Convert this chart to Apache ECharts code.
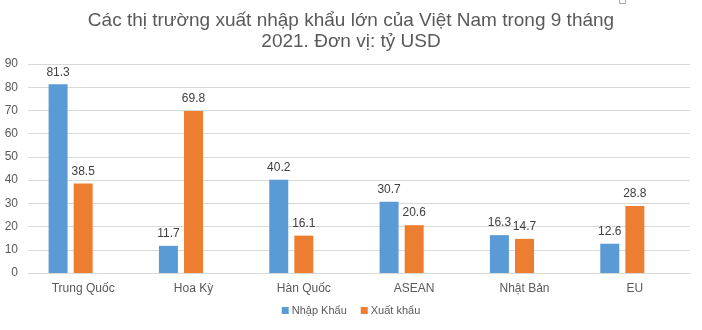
<!DOCTYPE html>
<html>
<head>
<meta charset="utf-8">
<script src="https://cdn.jsdelivr.net/npm/echarts@6/dist/echarts.min.js"></script>
<style>
  html, body { margin: 0; padding: 0; background: #fff; }
  #chart { width: 702px; height: 330px; }
</style>
</head>
<body>
<div id="chart"></div>
<script>
// Markets and trade values (billion USD), first 9 months of 2021
const categories = ['Trung Quốc', 'Hoa Kỳ', 'Hàn Quốc', 'ASEAN', 'Nhật Bản', 'EU'];
const importValues = [81.3, 11.7, 40.2, 30.7, 16.3, 12.6];
const exportValues = [38.5, 69.8, 16.1, 20.6, 14.7, 28.8];
const yTicks = { min: 0, max: 90, interval: 10 };

const FONT = '"Liberation Sans", Arial, sans-serif';
const chart = echarts.init(document.getElementById('chart'));

const labelStyle = {
  show: true,
  position: 'top',
  color: '#404040',
  fontSize: 12,
  fontFamily: FONT,
  distance: 6
};

chart.setOption({
  animation: false,
  textStyle: { fontFamily: FONT },
  title: {
    text: 'Các thị trường xuất nhập khẩu lớn của Việt Nam trong 9 tháng\n2021. Đơn vị: tỷ USD',
    left: 'center',
    top: 5,
    textStyle: {
      color: '#595959',
      fontSize: 19,
      fontWeight: 'normal',
      fontFamily: FONT,
      lineHeight: 21,
      align: 'center'
    }
  },
  legend: {
    data: ['Nhập Khẩu', 'Xuất khẩu'],
    bottom: 9,
    left: 'center',
    itemWidth: 7,
    itemHeight: 7,
    itemGap: 14,
    icon: 'rect',
    textStyle: { color: '#595959', fontSize: 11, fontFamily: FONT, padding: [0, 0, 0, -2] }
  },
  grid: { left: 28, right: 12, top: 64, bottom: 57 },
  xAxis: {
    type: 'category',
    data: categories,
    axisLine: { lineStyle: { color: '#D9D9D9' } },
    axisTick: { show: false },
    axisLabel: { color: '#595959', fontSize: 12, fontFamily: FONT, margin: 10 }
  },
  yAxis: {
    type: 'value',
    min: yTicks.min,
    max: yTicks.max,
    interval: yTicks.interval,
    axisLine: { show: false },
    axisTick: { show: false },
    splitLine: { lineStyle: { color: '#D9D9D9' } },
    axisLabel: { color: '#595959', fontSize: 12, fontFamily: FONT, margin: 10 }
  },
  series: [
    {
      name: 'Nhập Khẩu',
      type: 'bar',
      data: importValues,
      barWidth: 19,
      barGap: '32%',
      itemStyle: { color: '#5B9BD5' },
      label: labelStyle
    },
    {
      name: 'Xuất khẩu',
      type: 'bar',
      data: exportValues,
      barWidth: 19,
      barGap: '32%',
      itemStyle: { color: '#ED7D31' },
      label: labelStyle
    },
    {
      // empty third slot in each category group
      name: '',
      type: 'bar',
      data: [],
      barWidth: 19,
      barGap: '32%'
    }
  ],
  graphic: [
    {
      type: 'rect',
      left: 619,
      top: -3,
      shape: { width: 6, height: 6 },
      style: { fill: '#fff', stroke: '#A6A6A6', lineWidth: 1 }
    }
  ]
});
</script>
</body>
</html>
